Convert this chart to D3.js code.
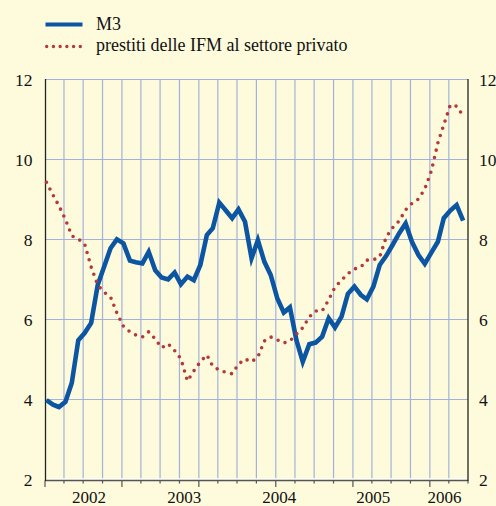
<!DOCTYPE html>
<html>
<head>
<meta charset="utf-8">
<script src="https://cdn.jsdelivr.net/npm/d3@7.9.0/dist/d3.min.js"></script>
<style>
  html, body { margin: 0; padding: 0; background: #fdfbdc; }
  svg { display: block; }
  svg text { font-family: 'Times New Roman', Times, 'Liberation Serif', 'Noto Serif', 'DejaVu Serif', serif; }
</style>
</head>
<body>
<div id="chart"></div>
<script>
// monthly data, Jan 2001 - Jun 2006 (annual % change)
const firstMonth = new Date(2001, 0, 1);
const m3 = [
  3.97, 3.86, 3.80, 3.93, 4.40, 5.47, 5.65, 5.90, 6.85, 7.30, 7.77, 7.99,
  7.89, 7.46, 7.42, 7.39, 7.68, 7.22, 7.04, 6.99, 7.16, 6.87, 7.06, 6.97,
  7.35, 8.10, 8.27, 8.91, 8.72, 8.52, 8.74, 8.43, 7.52, 7.97, 7.43, 7.10,
  6.52, 6.16, 6.29, 5.47, 4.93, 5.37, 5.41, 5.56, 6.02, 5.79, 6.06, 6.63,
  6.81, 6.60, 6.49, 6.81, 7.35, 7.58, 7.85, 8.14, 8.39, 7.93, 7.60, 7.38,
  7.66, 7.93, 8.52, 8.71, 8.85, 8.46
];
const loans = [
  9.42, 9.10, 8.83, 8.49, 8.08, 8.00, 7.88, 7.30, 6.85, 6.67, 6.55, 6.15,
  5.82, 5.68, 5.60, 5.55, 5.68, 5.50, 5.28, 5.38, 5.21, 5.00, 4.45, 4.70,
  4.93, 5.10, 4.82, 4.72, 4.67, 4.63, 4.87, 5.00, 4.93, 5.05, 5.45, 5.55,
  5.48, 5.40, 5.45, 5.62, 5.78, 6.05, 6.20, 6.20, 6.48, 6.80, 6.97, 7.13,
  7.25, 7.30, 7.47, 7.48, 7.55, 8.05, 8.28, 8.45, 8.73, 8.89, 9.00, 9.25,
  9.70, 10.40, 10.85, 11.35, 11.32, 11.08
];
const yTicks = [2, 4, 6, 8, 10, 12];
const yearLabels = ['2002', '2003', '2004', '2005', '2006'];
const yearLabelMonths = [6.87, 21.69, 36.51, 51.18, 62.26]; // months after Jan 2001
const legendLabels = ['M3', 'prestiti delle IFM al settore privato'];

const width = 496;
const height = 506;
const plot = { left: 45, right: 468, top: 79, bottom: 479 };

const blue = '#0b55a3';
const red = '#b3393a';
const gridColor = '#a3b2dc';
const serif = "'Times New Roman', Times, 'Liberation Serif', 'Noto Serif', 'DejaVu Serif', serif";

const svg = d3.select('#chart')
  .append('svg')
  .attr('width', width)
  .attr('height', height)
  .attr('font-family', serif);

svg.append('rect').attr('width', width).attr('height', height).attr('fill', '#fdfbdc');

const x = d3.scaleTime()
  .domain([firstMonth, new Date(2006, 6, 1)])
  .range([plot.left, plot.right]);

const y = d3.scaleLinear()
  .domain([2, 12])
  .range([plot.bottom, plot.top]);

const monthDate = (i) => d3.timeDay.offset(d3.timeMonth.offset(firstMonth, i), 7);
const m3Data = m3.map((v, i) => ({ date: monthDate(i), v }));
const loanData = loans.map((v, i) => ({ date: monthDate(i), v }));

// gridlines
const quarters = d3.timeMonth.every(3).range(firstMonth, d3.timeDay.offset(x.domain()[1], 1));
const grid = svg.append('g').attr('stroke', gridColor).attr('stroke-width', 1.2);

grid.selectAll('.h')
  .data(yTicks.filter((d) => d > 2))
  .join('line')
  .attr('x1', plot.left).attr('x2', plot.right)
  .attr('y1', (d) => Math.round(y(d)) + 0.5)
  .attr('y2', (d) => Math.round(y(d)) + 0.5);

grid.selectAll('.v')
  .data(quarters.filter((d, i) => i > 0 && i < quarters.length - 1))
  .join('line')
  .attr('x1', (d) => x(d)).attr('x2', (d) => x(d))
  .attr('y1', plot.top).attr('y2', plot.bottom);

// bottom axis
svg.append('line')
  .attr('x1', plot.left).attr('x2', plot.right)
  .attr('y1', plot.bottom).attr('y2', plot.bottom)
  .attr('stroke', '#ffffff').attr('stroke-width', 1.5);

svg.append('line')
  .attr('x1', plot.left).attr('x2', plot.right)
  .attr('y1', plot.bottom + 1.5).attr('y2', plot.bottom + 1.5)
  .attr('stroke', '#555').attr('stroke-width', 1.3);

svg.append('g')
  .selectAll('line')
  .data(quarters)
  .join('line')
  .attr('x1', (d) => x(d)).attr('x2', (d) => x(d))
  .attr('y1', plot.bottom + 1.5)
  .attr('y2', (d) => plot.bottom + (d.getMonth() === 0 ? 8 : 4.5))
  .attr('stroke', '#555').attr('stroke-width', 1.2);

// vertical axes
[plot.left + 0.5, plot.right].forEach((px) => {
  svg.append('line')
    .attr('x1', px).attr('x2', px)
    .attr('y1', plot.top).attr('y2', plot.bottom + 2)
    .attr('stroke', '#222').attr('stroke-width', 1.3);
});

// y labels
const labelStyle = (sel) => sel
  .attr('font-size', 17.5)
  .attr('fill', '#111')
  .attr('dominant-baseline', 'central');

svg.append('g').selectAll('text')
  .data(yTicks)
  .join('text')
  .attr('x', 32.5).attr('y', (d) => y(d) + 1)
  .attr('text-anchor', 'end')
  .text((d) => d)
  .call(labelStyle);

svg.append('g').selectAll('text')
  .data(yTicks)
  .join('text')
  .attr('x', 479).attr('y', (d) => y(d) + 1)
  .attr('text-anchor', 'start')
  .text((d) => d)
  .call(labelStyle);

// year labels
svg.append('g').selectAll('text')
  .data(yearLabels)
  .join('text')
  .attr('x', (d, i) => x(new Date(firstMonth.getTime() + yearLabelMonths[i] * 30.44 * 864e5)))
  .attr('y', 502.5)
  .attr('text-anchor', 'middle')
  .attr('font-size', 17)
  .attr('fill', '#111')
  .text((d) => d);

// series
const line = d3.line().x((d) => x(d.date)).y((d) => y(d.v));

svg.append('path')
  .datum(m3Data)
  .attr('d', line)
  .attr('fill', 'none')
  .attr('stroke', blue)
  .attr('stroke-width', 4.6)
  .attr('stroke-linejoin', 'miter');

svg.append('path')
  .datum(loanData)
  .attr('d', line)
  .attr('fill', 'none')
  .attr('stroke', red)
  .attr('stroke-width', 3.6)
  .attr('stroke-linecap', 'round')
  .attr('stroke-dasharray', '0,7.6');

// legend
const legend = svg.append('g');
legend.append('line')
  .attr('x1', 45.5).attr('x2', 82.5).attr('y1', 24.5).attr('y2', 24.5)
  .attr('stroke', blue).attr('stroke-width', 4.2);
legend.append('line')
  .attr('x1', 46.7).attr('x2', 80.3).attr('y1', 46.5).attr('y2', 46.5)
  .attr('stroke', red).attr('stroke-width', 3.4)
  .attr('stroke-linecap', 'round')
  .attr('stroke-dasharray', '0,6.72');
legend.selectAll('text')
  .data(legendLabels)
  .join('text')
  .attr('x', 96)
  .attr('y', (d, i) => 30 + i * 21)
  .attr('font-size', 18)
  .attr('fill', '#111')
  .text((d) => d);
</script>
</body>
</html>
